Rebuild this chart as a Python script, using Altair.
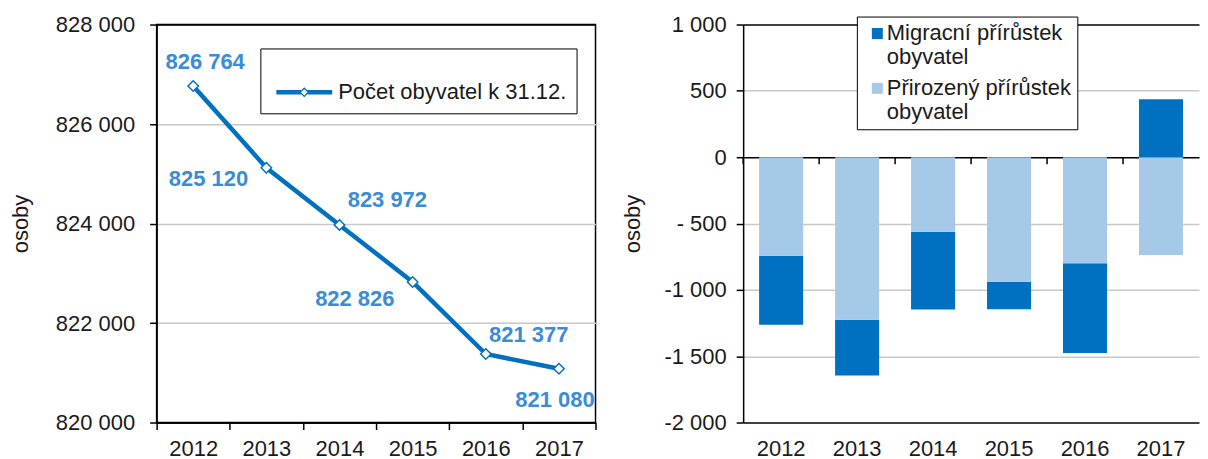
import altair as alt
import pandas as pd

# ---------------- data ----------------
years = ["2012", "2013", "2014", "2015", "2016", "2017"]
population = [826764, 825120, 823972, 822826, 821377, 821080]
pop_labels = ["826 764", "825 120", "823 972", "822 826", "821 377", "821 080"]

natural = [-742, -1226, -562, -938, -800, -737]      # Přirozený přírůstek
migration = [-521, -420, -586, -208, -675, 436]      # Migracní přírůstek

series_pop = "Počet obyvatel k 31.12."
series_mig = "Migracní přírůstek obyvatel"
series_nat = "Přirozený přírůstek obyvatel"
legend_lines_mig = ["Migracní přírůstek", "obyvatel"]
legend_lines_nat = ["Přirozený přírůstek", "obyvatel"]

left_ticks = [820000, 822000, 824000, 826000, 828000]
left_tick_labels = ["820 000", "822 000", "824 000", "826 000", "828 000"]
right_ticks = [-2000, -1500, -1000, -500, 0, 500, 1000]
right_tick_labels = ["-2 000", "-1 500", "-1 000", "- 500", "0", "500", "1 000"]

# ---------------- styles ----------------
FONT = "Liberation Sans"
FS = 22
DARK = "#0070C0"
LIGHT = "#A6C9E8"
LABEL_BLUE = "#3A8CD6"
GRID = "#C8C8C8"
TXT = "#1a1a1a"
ZERO_TICK_MID = -26   # centre of the small ticks below the zero line, in axis units (~3.5 px)


def label_expr(vals, labels):
    expr = "''"
    for v, l in zip(vals, labels):
        expr = f"datum.value == {v} ? '{l}' : ({expr})"
    return expr


W_L, W_R, H = 440, 457, 399

# ---------------- left chart ----------------
df_pop = pd.DataFrame({"year": years, "pop": population, "label": pop_labels,
                       "series": [series_pop] * len(years)})

x_left = alt.X("year:O", title=None,
               scale=alt.Scale(type="band", paddingInner=0, paddingOuter=0),
               axis=alt.Axis(labelAngle=0, tickBand="extent", domainColor="black",
                             domainWidth=1.5, tickColor="black", tickWidth=1.5,
                             tickSize=7, labelFontSize=FS, labelPadding=9,
                             labelColor=TXT, grid=False))
y_left = alt.Y("pop:Q", title="osoby",
               scale=alt.Scale(domain=[820000, 828000], nice=False, zero=False),
               axis=alt.Axis(values=left_ticks,
                             labelExpr=label_expr(left_ticks, left_tick_labels),
                             grid=True,
                             gridColor={"condition": {"test": "datum.value == 828000 || datum.value == 820000",
                                                      "value": "black"}, "value": GRID},
                             gridWidth=1.5,
                             domainColor="black", domainWidth=1.5,
                             tickColor="black", tickWidth=1.5, tickSize=7,
                             labelFontSize=FS, labelPadding=15, labelColor=TXT,
                             titleFontSize=FS, titleFontWeight="normal",
                             titleColor=TXT, titlePadding=23))

# legend symbol: thick line with a hollow diamond in the middle (nominal box 68px)
sym_path = ("M-0.8235,-0.066L-0.094,-0.066L-0.094,0.066L-0.8235,0.066Z"
            "M0.094,-0.066L0.8235,-0.066L0.8235,0.066L0.094,0.066Z"
            "M0,-0.147L0.147,0L0,0.147L-0.147,0Z"
            "M0,-0.094L-0.094,0L0,0.094L0.094,0Z")

base_l = alt.Chart(df_pop)
line = base_l.mark_line(strokeWidth=4.5).encode(
    x=x_left, y=y_left,
    color=alt.Color("series:N", scale=alt.Scale(domain=[series_pop], range=[DARK]),
                    legend=alt.Legend(title=None, orient="none", legendX=104, legendY=24,
                                      symbolType=sym_path, symbolSize=4624,
                                      symbolFillColor=DARK, symbolStrokeWidth=0,
                                      symbolStrokeColor=DARK,
                                      labelFontSize=FS, labelColor=TXT, labelLimit=400,
                                      strokeColor="black", fillColor="white",
                                      padding=10, labelOffset=0)))
points = base_l.mark_point(shape="diamond", filled=True, fill="white", stroke=DARK,
                           strokeWidth=1.5, size=110, opacity=1).encode(x="year:O", y="pop:Q")

offsets = [(12, -24), (-58, 11), (48, -25), (-58, 17), (43, -19), (-4, 31)]
texts = []
for yr, (dx, dy) in zip(years, offsets):
    texts.append(base_l.mark_text(dx=dx, dy=dy, fontSize=FS, fontWeight="bold",
                                  color=LABEL_BLUE).encode(
        x="year:O", y="pop:Q", text="label:N").transform_filter(alt.datum.year == yr))

left = alt.layer(line, points, *texts).properties(width=W_L, height=H)

# ---------------- right chart ----------------
df_bar = pd.DataFrame({
    "year": years * 2,
    "value": migration + natural,
    "series": [series_mig] * len(years) + [series_nat] * len(years),
    "order": [1] * len(years) + [0] * len(years),
})
df_years = pd.DataFrame({"year": years})

# square swatch, nudged right inside its nominal box
swatch_path = "M-0.18,-0.5L0.82,-0.5L0.82,0.5L-0.18,0.5Z"

x_right = alt.X("year:O", title=None,
                scale=alt.Scale(type="band", paddingInner=0, paddingOuter=0),
                axis=alt.Axis(labelAngle=0, ticks=False, domain=False, grid=False,
                              labelFontSize=FS, labelPadding=16, labelColor=TXT))

bars = alt.Chart(df_bar).mark_bar(width=alt.RelativeBandSize(0.58)).encode(
    x=x_right,
    y=alt.Y("value:Q", title="osoby", stack="zero",
            scale=alt.Scale(domain=[-2000, 1000], nice=False),
            axis=alt.Axis(values=right_ticks,
                          labelExpr=label_expr(right_ticks, right_tick_labels),
                          grid=True,
                          gridColor={"condition": {"test": "datum.value == 1000 || datum.value == -2000 || datum.value == 0",
                                                   "value": "black"}, "value": GRID},
                          gridWidth=1.5,
                          domainColor="black", domainWidth=1.5,
                          tickColor="black", tickWidth=1.5, tickSize=7,
                          labelFontSize=FS, labelPadding=10, labelColor=TXT,
                          titleFontSize=FS, titleFontWeight="normal",
                          titleColor=TXT, titlePadding=20)),
    color=alt.Color("series:N",
                    scale=alt.Scale(domain=[series_mig, series_nat], range=[DARK, LIGHT]),
                    legend=alt.Legend(title=None, orient="none", legendX=114, legendY=-8,
                                      symbolType=swatch_path, symbolSize=484,
                                      symbolStrokeWidth=0,
                                      labelFontSize=FS, labelColor=TXT, labelLimit=400,
                                      labelBaseline="middle", labelOffset=2,
                                      labelExpr=f"datum.label == '{series_mig}' ? {legend_lines_mig} : {legend_lines_nat}",
                                      strokeColor="black", fillColor="white",
                                      padding=6, rowPadding=9)),
    order=alt.Order("order:Q"),
)

# small ticks just below the zero line, at the boundaries between years
zero_ticks = alt.Chart(df_years).mark_tick(
    orient="vertical", color="black", thickness=1.5, size=7, opacity=1
).encode(
    x=alt.X("year:O", bandPosition=0),
    y=alt.datum(ZERO_TICK_MID),
)

right = alt.layer(bars, zero_ticks).properties(
    width=W_R, height=H, view=alt.ViewBackground(stroke="transparent"))

chart = alt.hconcat(left, right, spacing=22).resolve_scale(color="independent").resolve_legend(
    color="independent"
).properties(
    padding={"left": 0, "top": 4, "right": 0, "bottom": 0}
).configure(
    font=FONT
).configure_view(stroke="black", strokeWidth=1.5).configure_legend(labelFont=FONT)

chart.save("out.html", embed_options={"renderer": "svg", "actions": False})
